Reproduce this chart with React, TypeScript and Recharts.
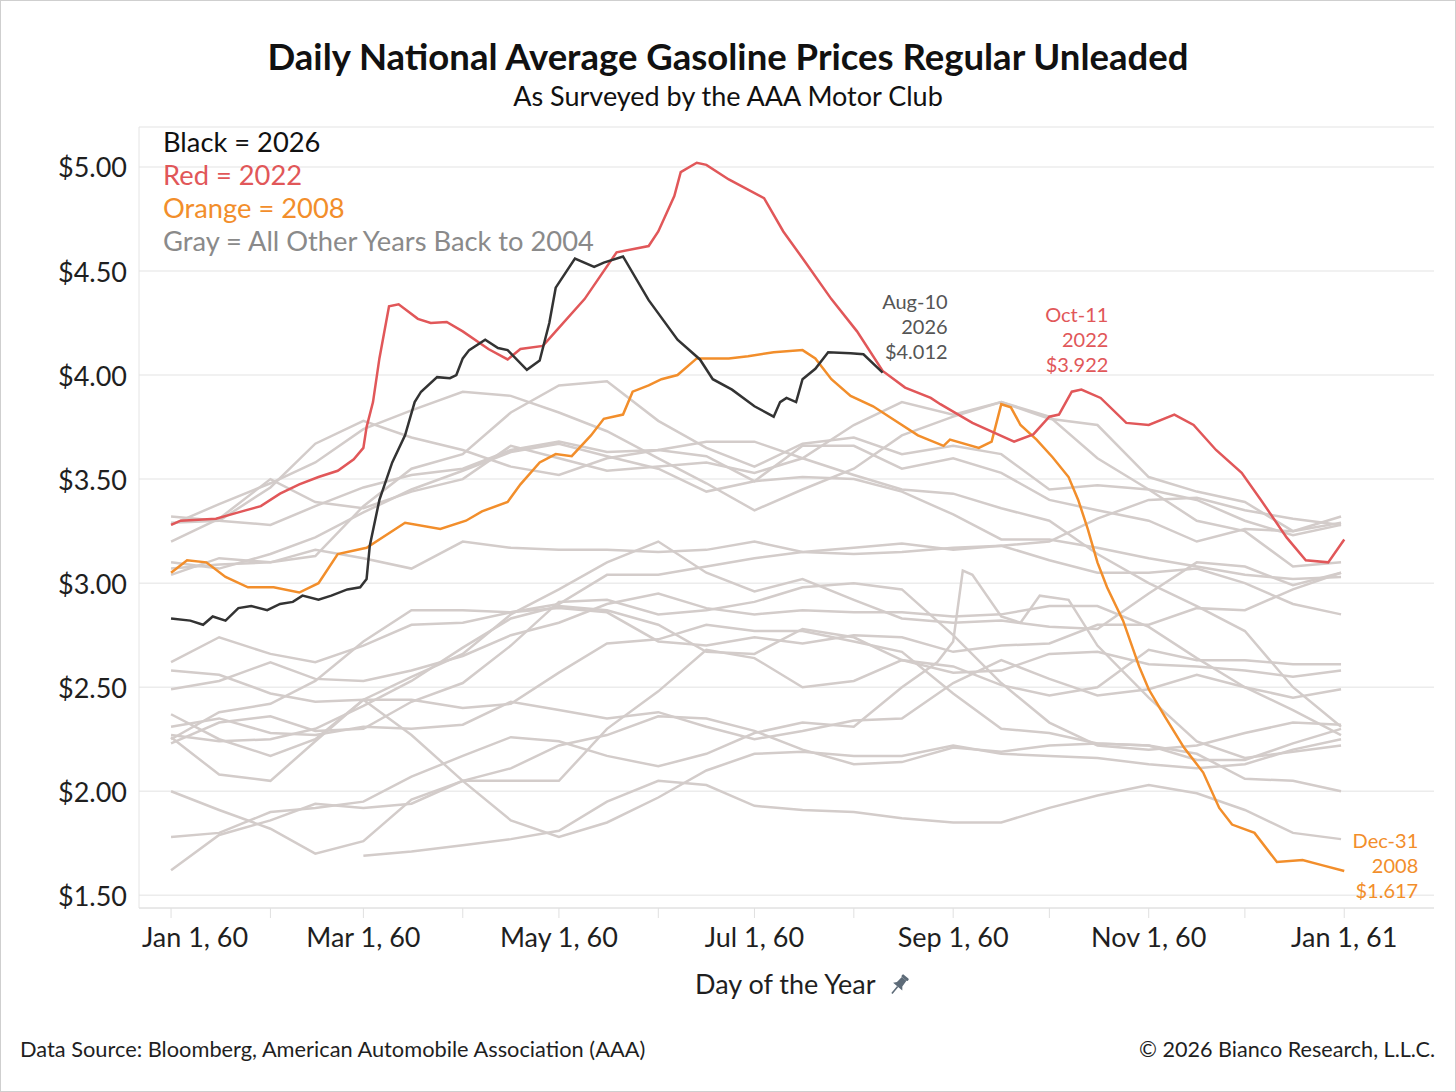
import React from "react";
import { CartesianGrid, Line, LineChart, ReferenceDot, XAxis, YAxis } from "recharts";

const FONT = "Lato, 'Noto Sans', sans-serif";

// x axis: day of a (leap) year, 1 = Jan 1, 367 = Jan 1 of the next year
const X_TICKS = [1, 32, 61, 92, 122, 153, 183, 214, 245, 275, 306, 336, 367];
const X_TICK_LABELS = ["Jan 1, 60", "", "Mar 1, 60", "", "May 1, 60", "", "Jul 1, 60", "", "Sep 1, 60", "", "Nov 1, 60", "", "Jan 1, 61"];
const Y_TICKS = [1.5, 2, 2.5, 3, 3.5, 4, 4.5, 5];

// 1st and 16th of every month
const GRAY_DAYS = [1, 16, 32, 46, 61, 76, 92, 107, 122, 137, 153, 168, 183, 198, 214, 229, 245, 260, 275, 290, 306, 321, 336, 351, 366];

const Y2004 = [null, null, null, null, 1.69, 1.71, 1.74, 1.77, 1.81, 1.95, 2.05, 2.03, 1.93, 1.91, 1.9, 1.87, 1.85, 1.85, 1.92, 1.98, 2.03, 1.99, 1.91, 1.8, 1.77];
const Y2005_DAYS = [1, 16, 32, 46, 61, 76, 92, 107, 122, 137, 153, 168, 183, 198, 214, 229, 240, 245, 248, 251, 260, 266, 272, 281, 290, 306, 321, 336, 351, 366];
const Y2005 = [1.78, 1.8, 1.9, 1.92, 1.95, 2.07, 2.17, 2.26, 2.24, 2.17, 2.12, 2.18, 2.28, 2.33, 2.31, 2.5, 2.62, 2.72, 3.06, 3.04, 2.84, 2.81, 2.94, 2.92, 2.7, 2.45, 2.24, 2.16, 2.19, 2.22];
const Y2006 = [2.23, 2.33, 2.36, 2.29, 2.3, 2.43, 2.52, 2.7, 2.91, 2.92, 2.85, 2.87, 2.91, 2.98, 3.0, 2.97, 2.75, 2.52, 2.33, 2.22, 2.2, 2.22, 2.28, 2.33, 2.32];
const Y2007 = [2.37, 2.25, 2.17, 2.25, 2.44, 2.55, 2.66, 2.85, 2.97, 3.1, 3.2, 3.05, 2.96, 3.02, 2.92, 2.83, 2.81, 2.82, 2.79, 2.78, 2.95, 3.1, 3.08, 2.99, 3.05];
const Y2009 = [1.62, 1.79, 1.86, 1.94, 1.92, 1.94, 2.05, 2.05, 2.05, 2.3, 2.48, 2.68, 2.64, 2.5, 2.53, 2.63, 2.6, 2.51, 2.46, 2.5, 2.68, 2.63, 2.63, 2.61, 2.61];
const Y2010 = [2.62, 2.74, 2.66, 2.62, 2.7, 2.8, 2.81, 2.86, 2.88, 2.86, 2.72, 2.7, 2.74, 2.71, 2.75, 2.74, 2.67, 2.7, 2.71, 2.8, 2.8, 2.88, 2.87, 2.97, 3.05];
const Y2011 = [3.07, 3.09, 3.1, 3.13, 3.37, 3.55, 3.62, 3.82, 3.95, 3.97, 3.78, 3.65, 3.56, 3.67, 3.7, 3.62, 3.66, 3.62, 3.45, 3.47, 3.45, 3.4, 3.3, 3.23, 3.28];
const Y2012 = [3.28, 3.38, 3.48, 3.58, 3.74, 3.83, 3.92, 3.9, 3.82, 3.73, 3.6, 3.48, 3.35, 3.45, 3.55, 3.71, 3.8, 3.87, 3.79, 3.76, 3.51, 3.44, 3.39, 3.25, 3.29];
const Y2013 = [3.29, 3.3, 3.46, 3.67, 3.78, 3.7, 3.64, 3.56, 3.52, 3.6, 3.64, 3.61, 3.49, 3.66, 3.66, 3.55, 3.6, 3.53, 3.4, 3.35, 3.3, 3.2, 3.26, 3.25, 3.32];
const Y2014 = [3.32, 3.3, 3.28, 3.37, 3.46, 3.52, 3.55, 3.64, 3.68, 3.63, 3.64, 3.68, 3.68, 3.6, 3.52, 3.45, 3.43, 3.36, 3.3, 3.14, 3.0, 2.89, 2.77, 2.5, 2.31];
const Y2015 = [2.26, 2.08, 2.05, 2.24, 2.44, 2.44, 2.4, 2.42, 2.57, 2.71, 2.73, 2.8, 2.77, 2.77, 2.72, 2.67, 2.47, 2.3, 2.28, 2.23, 2.22, 2.18, 2.06, 2.05, 2.0];
const Y2016 = [2.0, 1.91, 1.82, 1.7, 1.76, 1.96, 2.05, 2.11, 2.22, 2.27, 2.36, 2.35, 2.29, 2.2, 2.13, 2.14, 2.21, 2.19, 2.22, 2.23, 2.22, 2.15, 2.15, 2.23, 2.3];
const Y2017 = [2.31, 2.35, 2.28, 2.27, 2.31, 2.3, 2.32, 2.43, 2.39, 2.35, 2.38, 2.31, 2.25, 2.29, 2.34, 2.35, 2.52, 2.63, 2.54, 2.46, 2.49, 2.56, 2.5, 2.45, 2.49];
const Y2018 = [2.49, 2.53, 2.62, 2.54, 2.53, 2.58, 2.65, 2.75, 2.81, 2.9, 2.95, 2.88, 2.85, 2.87, 2.86, 2.86, 2.84, 2.85, 2.89, 2.89, 2.79, 2.64, 2.5, 2.39, 2.27];
const Y2019 = [2.27, 2.24, 2.25, 2.3, 2.41, 2.53, 2.69, 2.83, 2.89, 2.87, 2.8, 2.67, 2.66, 2.78, 2.74, 2.63, 2.57, 2.58, 2.66, 2.67, 2.61, 2.6, 2.58, 2.55, 2.58];
const Y2020 = [2.58, 2.56, 2.47, 2.43, 2.44, 2.27, 2.05, 1.86, 1.78, 1.85, 1.97, 2.1, 2.18, 2.19, 2.17, 2.17, 2.22, 2.18, 2.17, 2.16, 2.13, 2.11, 2.13, 2.2, 2.25];
const Y2021 = [2.25, 2.38, 2.42, 2.53, 2.72, 2.87, 2.87, 2.86, 2.9, 3.04, 3.04, 3.08, 3.12, 3.15, 3.17, 3.19, 3.16, 3.18, 3.2, 3.31, 3.4, 3.41, 3.35, 3.31, 3.28];
const Y2023 = [3.2, 3.31, 3.5, 3.39, 3.36, 3.44, 3.5, 3.66, 3.6, 3.54, 3.56, 3.58, 3.53, 3.6, 3.76, 3.87, 3.81, 3.87, 3.8, 3.6, 3.45, 3.3, 3.25, 3.08, 3.1];
const Y2024 = [3.1, 3.07, 3.14, 3.22, 3.34, 3.45, 3.54, 3.63, 3.67, 3.61, 3.55, 3.44, 3.49, 3.51, 3.5, 3.44, 3.33, 3.21, 3.21, 3.17, 3.12, 3.08, 3.04, 3.02, 3.03];
const Y2025 = [3.04, 3.12, 3.1, 3.16, 3.12, 3.07, 3.2, 3.17, 3.16, 3.16, 3.15, 3.16, 3.2, 3.15, 3.14, 3.15, 3.17, 3.18, 3.11, 3.05, 3.05, 3.07, 3.0, 2.9, 2.85];

const ORANGE_DAYS = [1, 6, 12, 18, 25, 33, 41, 47, 53, 62, 74, 85, 93, 98, 106, 110, 116, 121, 126, 132, 136, 142, 145, 150, 154, 159, 165, 175, 181, 189, 198, 202, 207, 213, 220, 226, 234, 242, 244, 253, 257, 260, 263, 266, 271, 276, 281, 284, 287, 290, 293, 298, 303, 306, 311, 317, 323, 328, 332, 339, 346, 354, 360, 367];
const Y2008 = [3.05, 3.11, 3.1, 3.03, 2.98, 2.98, 2.955, 3.0, 3.14, 3.17, 3.29, 3.26, 3.3, 3.345, 3.39, 3.475, 3.58, 3.62, 3.61, 3.71, 3.79, 3.81, 3.92, 3.95, 3.98, 4.0, 4.08, 4.08, 4.09, 4.11, 4.12, 4.08, 3.98, 3.9, 3.85, 3.79, 3.71, 3.66, 3.69, 3.65, 3.68, 3.86, 3.845, 3.76, 3.69, 3.605, 3.51, 3.4, 3.26, 3.1, 2.98, 2.82, 2.6, 2.49, 2.36, 2.21, 2.09, 1.92, 1.84, 1.8, 1.66, 1.67, 1.645, 1.617];

const RED_DAYS = [1, 4, 15, 22, 29, 35, 41, 47, 53, 58, 61, 62, 64, 66, 69, 72, 78, 82, 87, 92, 100, 106, 110, 117, 121, 130, 140, 150, 153, 158, 160, 165, 168, 175, 186, 192, 199, 207, 215, 223, 230, 238, 241, 251, 264, 270, 275, 278, 282, 285, 291, 299, 306, 314, 320, 327, 335, 341, 349, 355, 362, 367];
const Y2022 = [3.28, 3.3, 3.31, 3.34, 3.37, 3.43, 3.475, 3.51, 3.54, 3.595, 3.65, 3.75, 3.87, 4.08, 4.33, 4.34, 4.27, 4.25, 4.255, 4.21, 4.125, 4.075, 4.125, 4.14, 4.21, 4.365, 4.59, 4.62, 4.69, 4.86, 4.975, 5.02, 5.01, 4.94, 4.85, 4.69, 4.54, 4.365, 4.21, 4.02, 3.94, 3.89, 3.86, 3.77, 3.68, 3.715, 3.8, 3.81, 3.92, 3.93, 3.89, 3.77, 3.76, 3.81, 3.76, 3.64, 3.53, 3.4, 3.22, 3.11, 3.1, 3.21];

const BLACK_DAYS = [1, 7, 11, 14, 18, 22, 26, 31, 35, 39, 42, 47, 51, 56, 60, 62, 63, 66, 70, 74, 77, 79, 84, 88, 90, 92, 94, 99, 103, 106, 112, 116, 119, 121, 127, 133, 136, 142, 150, 159, 166, 170, 176, 183, 189, 191, 193, 196, 198, 202, 206, 213, 217, 223];
const Y2026 = [2.83, 2.82, 2.8, 2.84, 2.82, 2.88, 2.89, 2.87, 2.9, 2.91, 2.94, 2.92, 2.94, 2.97, 2.98, 3.02, 3.18, 3.4, 3.58, 3.71, 3.87, 3.92, 3.99, 3.985, 4.0, 4.08, 4.12, 4.17, 4.13, 4.12, 4.025, 4.07, 4.25, 4.42, 4.56, 4.52, 4.54, 4.57, 4.36, 4.17, 4.075, 3.98, 3.93, 3.85, 3.8, 3.87, 3.89, 3.87, 3.98, 4.03, 4.11, 4.105, 4.1, 4.012];

const OTHER_YEARS = [
  { year: 2004, days: GRAY_DAYS, values: Y2004 },
  { year: 2005, days: Y2005_DAYS, values: Y2005 },
  { year: 2006, days: GRAY_DAYS, values: Y2006 },
  { year: 2007, days: GRAY_DAYS, values: Y2007 },
  { year: 2009, days: GRAY_DAYS, values: Y2009 },
  { year: 2010, days: GRAY_DAYS, values: Y2010 },
  { year: 2011, days: GRAY_DAYS, values: Y2011 },
  { year: 2012, days: GRAY_DAYS, values: Y2012 },
  { year: 2013, days: GRAY_DAYS, values: Y2013 },
  { year: 2014, days: GRAY_DAYS, values: Y2014 },
  { year: 2015, days: GRAY_DAYS, values: Y2015 },
  { year: 2016, days: GRAY_DAYS, values: Y2016 },
  { year: 2017, days: GRAY_DAYS, values: Y2017 },
  { year: 2018, days: GRAY_DAYS, values: Y2018 },
  { year: 2019, days: GRAY_DAYS, values: Y2019 },
  { year: 2020, days: GRAY_DAYS, values: Y2020 },
  { year: 2021, days: GRAY_DAYS, values: Y2021 },
  { year: 2023, days: GRAY_DAYS, values: Y2023 },
  { year: 2024, days: GRAY_DAYS, values: Y2024 },
  { year: 2025, days: GRAY_DAYS, values: Y2025 },
];

const GRAY = "#d3ccca";
const RED = "#e15759";
const ORANGE = "#f28e2b";
const BLACK = "#333333";

const toPoints = (days: number[], values: (number | null)[]) =>
  days.map((day, i) => ({ day, price: values[i] }));

function MonthTick({ x, y, index }: any) {
  const label = X_TICK_LABELS[index];
  if (!label) return <g />;
  // first label is pushed right so it stays inside the frame
  const shift = index === 0 ? 24 : 0;
  return (
    <text x={x + shift} y={y + 27} textAnchor="middle" fontSize={27} fontFamily={FONT} fill="#1f1f1f">
      {label}
    </text>
  );
}

function PriceTick({ x, y, payload }: any) {
  return (
    <text x={x} y={y} textAnchor="end" dominantBaseline="central" fontSize={27} fontFamily={FONT} fill="#1f1f1f">
      ${payload.value.toFixed(2)}
    </text>
  );
}

function Callout({ viewBox, lines, color, dx, dy }: any) {
  const { x, y } = viewBox;
  return (
    <g>
      {lines.map((t: string, i: number) => (
        <text
          key={i}
          x={x + dx}
          y={y + dy + i * 25}
          textAnchor="end"
          dominantBaseline="central"
          fontSize={20}
          fontFamily={FONT}
          fill={color}
        >
          {t}
        </text>
      ))}
    </g>
  );
}

function Pin() {
  return (
    <svg width="22" height="24" viewBox="0 0 22 24" style={{ marginLeft: 12, verticalAlign: "-3px" }}>
      <g fill="#5d6b78" transform="rotate(40 11 12)">
        <rect x="7" y="1" width="8" height="3" rx="1" />
        <path d="M8 4 L14 4 L14.5 11 L17 14 L5 14 L7.5 11 Z" />
        <rect x="10.2" y="14" width="1.6" height="9" />
      </g>
    </svg>
  );
}

export default function App() {
  return (
    <div style={{ position: "relative", width: 1456, height: 1092, background: "#fff", fontFamily: FONT }}>
      <style>{`body{margin:0}`}</style>

      <LineChart width={1456} height={1092} margin={{ top: 127, right: 22, bottom: 124, left: 0 }}>
        <CartesianGrid vertical={false} stroke="#ececec" strokeWidth={1.5} />
        <XAxis
          type="number"
          dataKey="day"
          domain={[-9, 395]}
          ticks={X_TICKS}
          interval={0}
          allowDataOverflow
          height={60}
          stroke="#e0e0e0"
          tickLine={{ stroke: "#e0e0e0" }}
          tickSize={10}
          tick={<MonthTick />}
        />
        <YAxis
          type="number"
          domain={[1.439, 5.192]}
          ticks={Y_TICKS}
          interval={0}
          allowDataOverflow
          width={139}
          stroke="#e4e4e4"
          tickLine={false}
          tickSize={0}
          tickMargin={12}
          tick={<PriceTick />}
        />
        {OTHER_YEARS.map((s) => (
          <Line
            key={s.year}
            data={toPoints(s.days, s.values)}
            dataKey="price"
            type="linear"
            stroke={GRAY}
            strokeWidth={2.5}
            dot={false}
            isAnimationActive={false}
          />
        ))}
        <Line data={toPoints(ORANGE_DAYS, Y2008)} dataKey="price" type="linear" stroke={ORANGE} strokeWidth={2.5} dot={false} isAnimationActive={false} />
        <Line data={toPoints(RED_DAYS, Y2022)} dataKey="price" type="linear" stroke={RED} strokeWidth={2.5} dot={false} isAnimationActive={false} />
        <Line data={toPoints(BLACK_DAYS, Y2026)} dataKey="price" type="linear" stroke={BLACK} strokeWidth={2.5} dot={false} isAnimationActive={false} />

        <ReferenceDot x={223} y={4.012} r={0} fill="none" stroke="none"
          label={<Callout lines={["Aug-10", "2026", "$4.012"]} color="#555555" dx={65} dy={-72} />} />
        <ReferenceDot x={285} y={3.922} r={0} fill="none" stroke="none"
          label={<Callout lines={["Oct-11", "2022", "$3.922"]} color={RED} dx={27} dy={-77} />} />
        <ReferenceDot x={367} y={1.617} r={0} fill="none" stroke="none"
          label={<Callout lines={["Dec-31", "2008", "$1.617"]} color={ORANGE} dx={74} dy={-31} />} />
      </LineChart>

      <div style={{ position: "absolute", left: 0, width: 1456, top: 38, textAlign: "center", fontSize: 36.5, fontWeight: 700, lineHeight: "37px", color: "#111" }}>
        Daily National Average Gasoline Prices Regular Unleaded
      </div>
      <div style={{ position: "absolute", left: 0, width: 1456, top: 82, textAlign: "center", fontSize: 27, lineHeight: "27px", color: "#111" }}>
        As Surveyed by the AAA Motor Club
      </div>

      <div style={{ position: "absolute", left: 163, top: 125, fontSize: 27.3, lineHeight: "33px" }}>
        <div style={{ color: "#111" }}>Black = 2026</div>
        <div style={{ color: RED }}>Red = 2022</div>
        <div style={{ color: ORANGE }}>Orange = 2008</div>
        <div style={{ color: "#8a8a8a" }}>Gray = All Other Years Back to 2004</div>
      </div>

      <div style={{ position: "absolute", left: 695, top: 969, fontSize: 27, lineHeight: "29px", color: "#1f1f1f", whiteSpace: "nowrap" }}>
        Day of the Year<Pin />
      </div>

      <div style={{ position: "absolute", left: 20, top: 1037, fontSize: 21.8, lineHeight: "24px", color: "#1f1f1f" }}>
        Data Source: Bloomberg, American Automobile Association (AAA)
      </div>
      <div style={{ position: "absolute", right: 21, top: 1037, fontSize: 21.6, lineHeight: "24px", color: "#1f1f1f" }}>
        © 2026 Bianco Research, L.L.C.
      </div>

      <div style={{ position: "absolute", inset: 0, border: "1px solid #cfcfcf", pointerEvents: "none" }} />
    </div>
  );
}
